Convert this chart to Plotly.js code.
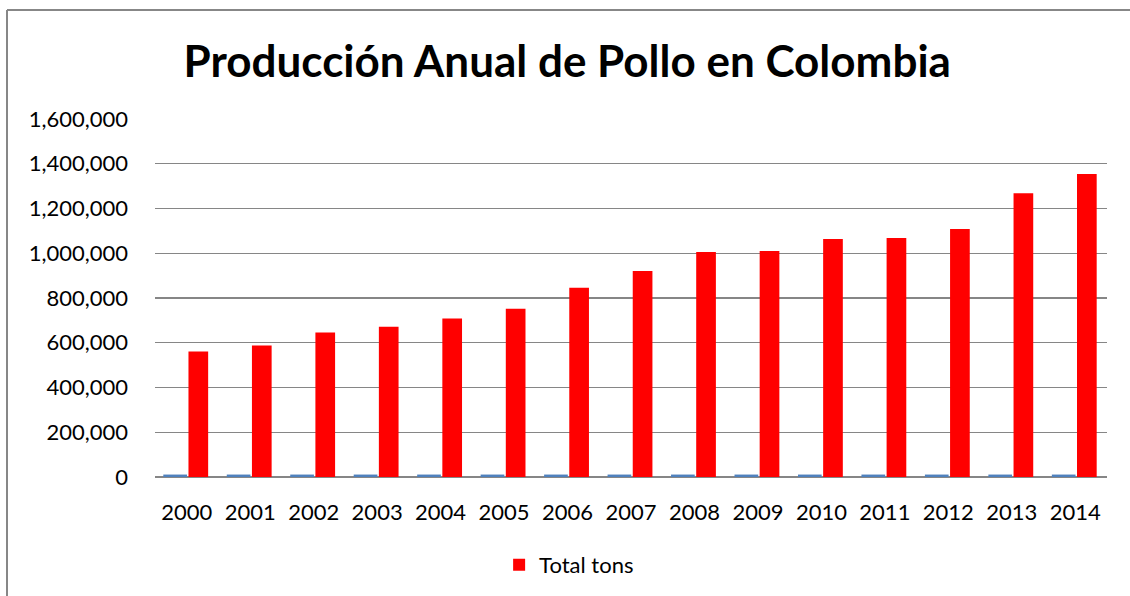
<!DOCTYPE html>
<html>
<head>
<meta charset="utf-8">
<script src="https://cdn.plot.ly/plotly-3.0.1.min.js"></script>
<style>
  html, body { margin: 0; padding: 0; background: #fff; overflow: hidden; }
  #chart { width: 1130px; height: 596px; }
</style>
</head>
<body>
<div id="chart"></div>
<script>
const years = ['2000','2001','2002','2003','2004','2005','2006','2007','2008','2009','2010','2011','2012','2013','2014'];
const yearSeries = [2000,2001,2002,2003,2004,2005,2006,2007,2008,2009,2010,2011,2012,2013,2014];
const totalTons = [561000,588000,646000,672000,708000,752000,846000,921000,1006000,1010000,1064000,1068000,1108000,1268000,1354000];
const yTicks = [0,200000,400000,600000,800000,1000000,1200000,1400000,1600000];
const yTickText = ['0','200,000','400,000','600,000','800,000','1,000,000','1,200,000','1,400,000','1,600,000'];

const font = 'Lato, "Open Sans", sans-serif';

const traces = [
  {
    type: 'bar', name: 'Year', x: years, y: yearSeries, showlegend: false,
    marker: { color: '#4F81BD', line: { color: '#4F81BD', width: 4 } },
    hoverinfo: 'x+y'
  },
  {
    type: 'bar', name: 'Total tons', x: years, y: totalTons,
    marker: { color: '#FF0000' }
  }
];

const W = 1130, H = 596, ML = 155, MR = 23, MT = 119, MB = 119;
const pw = W - ML - MR, ph = H - MT - MB;
const px = v => (v - ML) / pw;          // pixel -> paper x
const py = v => (H - MB - v) / ph;      // pixel -> paper y

const layout = {
  width: W, height: H,
  paper_bgcolor: '#ffffff', plot_bgcolor: '#ffffff',
  margin: { l: ML, r: MR, t: MT, b: MB, autoexpand: false },
  barmode: 'group', bargap: 0.27, bargroupgap: 0.15,
  title: {
    text: '<b>Producción Anual de Pollo en Colombia</b>',
    font: { family: font, size: 44, color: '#000000' },
    x: 0.502, xanchor: 'center', y: 0.897, yanchor: 'middle'
  },
  xaxis: {
    type: 'category', tickfont: { family: font, size: 22, color: '#000' },
    showgrid: false, showline: false, ticks: '', ticklen: 0, ticklabelstandoff: 20,
    automargin: false
  },
  yaxis: {
    range: [0, 1600000], tickvals: yTicks, ticktext: yTickText,
    tickfont: { family: font, size: 22, color: '#000' },
    showgrid: true, gridcolor: '#868686', gridwidth: 1.4,
    zeroline: true, zerolinecolor: '#868686', zerolinewidth: 1.5,
    showline: false, ticks: '', ticklabelstandoff: 26, automargin: false
  },
  shapes: [
    { type: 'line', xref: 'paper', yref: 'paper', x0: px(7), x1: px(W + 5), y0: py(10), y1: py(10),
      line: { color: '#878787', width: 2 } },
    { type: 'line', xref: 'paper', yref: 'paper', x0: px(7), x1: px(7), y0: py(10), y1: py(H + 5),
      line: { color: '#878787', width: 2 } }
  ],
  showlegend: true,
  legend: {
    orientation: 'h', x: 0.435, xanchor: 'center', y: -0.187, yanchor: 'top',
    font: { family: font, size: 22, color: '#000' }
  }
};

Plotly.newPlot('chart', traces, layout, { displayModeBar: false, staticPlot: true });
</script>
</body>
</html>
